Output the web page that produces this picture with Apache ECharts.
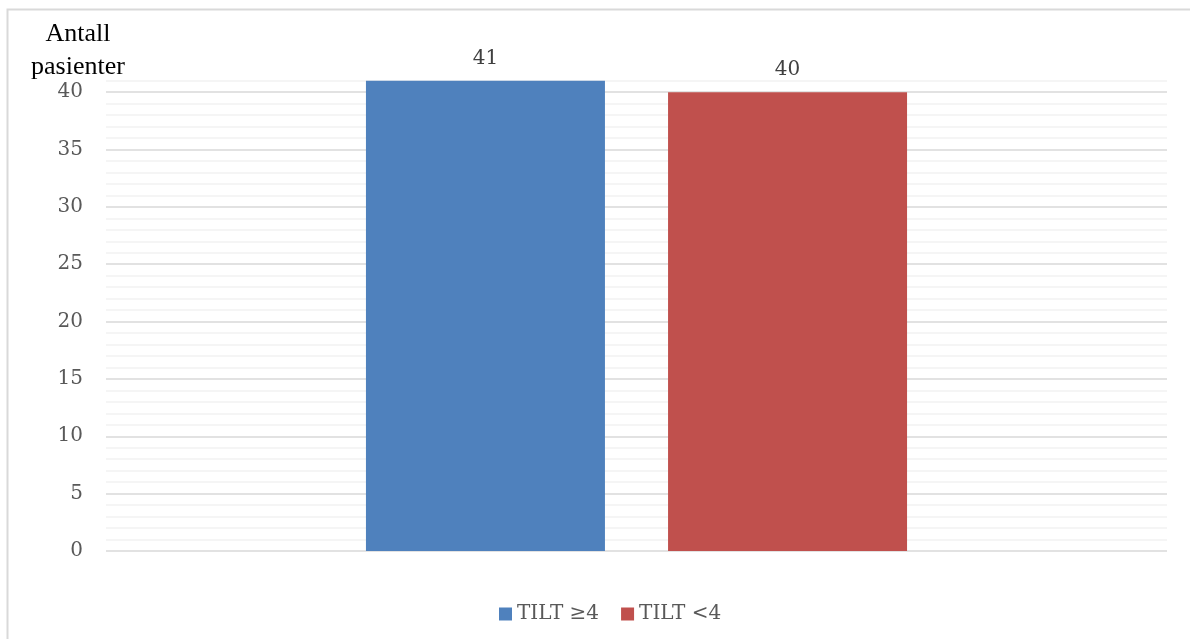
<!DOCTYPE html>
<html>
<head>
<meta charset="utf-8">
<script src="https://cdn.jsdelivr.net/npm/echarts@6/dist/echarts.min.js"></script>
<style>
html,body{margin:0;padding:0;background:#fff;}
#chart{width:1190px;height:639px;}
</style>
</head>
<body>
<div id="chart"></div>
<script>
const categories = [''];
const seriesNames = ['TILT \u22654', 'TILT <4'];
const seriesValues = [[41], [40]];
const seriesColors = ['#4F81BD', '#C0504D'];
const yAxisTitle = 'Antall\npasienter';
const yMin = 0, yMax = 41, yLabelStep = 5;

const chart = echarts.init(document.getElementById('chart'));
const serif = 'DejaVu Serif';
const option = {
  animation: false,
  backgroundColor: '#fff',
  grid: { left: 106, right: 23, top: 80.7, bottom: 88, containLabel: false },
  legend: {
    left: 494, top: 599,
    itemWidth: 13, itemHeight: 13, itemGap: 22,
    icon: 'rect',
    textStyle: { fontFamily: serif, fontSize: 20, color: '#595959' },
    data: seriesNames
  },
  xAxis: {
    type: 'category',
    data: categories,
    axisLine: { show: false },
    axisTick: { show: false },
    axisLabel: { show: false },
    splitLine: { show: false }
  },
  yAxis: {
    type: 'value',
    min: yMin, max: yMax, interval: 1,
    axisLine: { show: false },
    axisTick: { show: false },
    axisLabel: {
      margin: 23,
      fontFamily: serif, fontSize: 20, color: '#595959',
      showMaxLabel: false,
      formatter: v => (v % yLabelStep === 0 ? String(v) : '')
    },
    splitLine: {
      show: true,
      lineStyle: { color: ['#d9d9d9', '#f2f2f2', '#f2f2f2', '#f2f2f2', '#f2f2f2'], width: 1.5 }
    }
  },
  series: seriesNames.map((name, i) => ({
    name: name,
    type: 'bar',
    data: seriesValues[i],
    barWidth: 239,
    barGap: '26.4%',
    itemStyle: { color: seriesColors[i] },
    label: {
      show: true, position: 'top', distance: 12,
      fontFamily: serif, fontSize: 20, color: '#404040'
    }
  })),
  graphic: [
    {
      type: 'rect', silent: true, z: -1,
      shape: { x: 7.5, y: 9.5, width: 1300, height: 800 },
      style: { fill: 'none', stroke: '#d9d9d9', lineWidth: 2 }
    },
    {
      type: 'text', silent: true,
      x: 78, y: 18,
      style: {
        text: yAxisTitle,
        fontFamily: 'Liberation Serif',
        fontSize: 26,
        fill: '#000',
        align: 'center',
        verticalAlign: 'top',
        lineHeight: 33
      }
    }
  ]
};
chart.setOption(option);
</script>
</body>
</html>
